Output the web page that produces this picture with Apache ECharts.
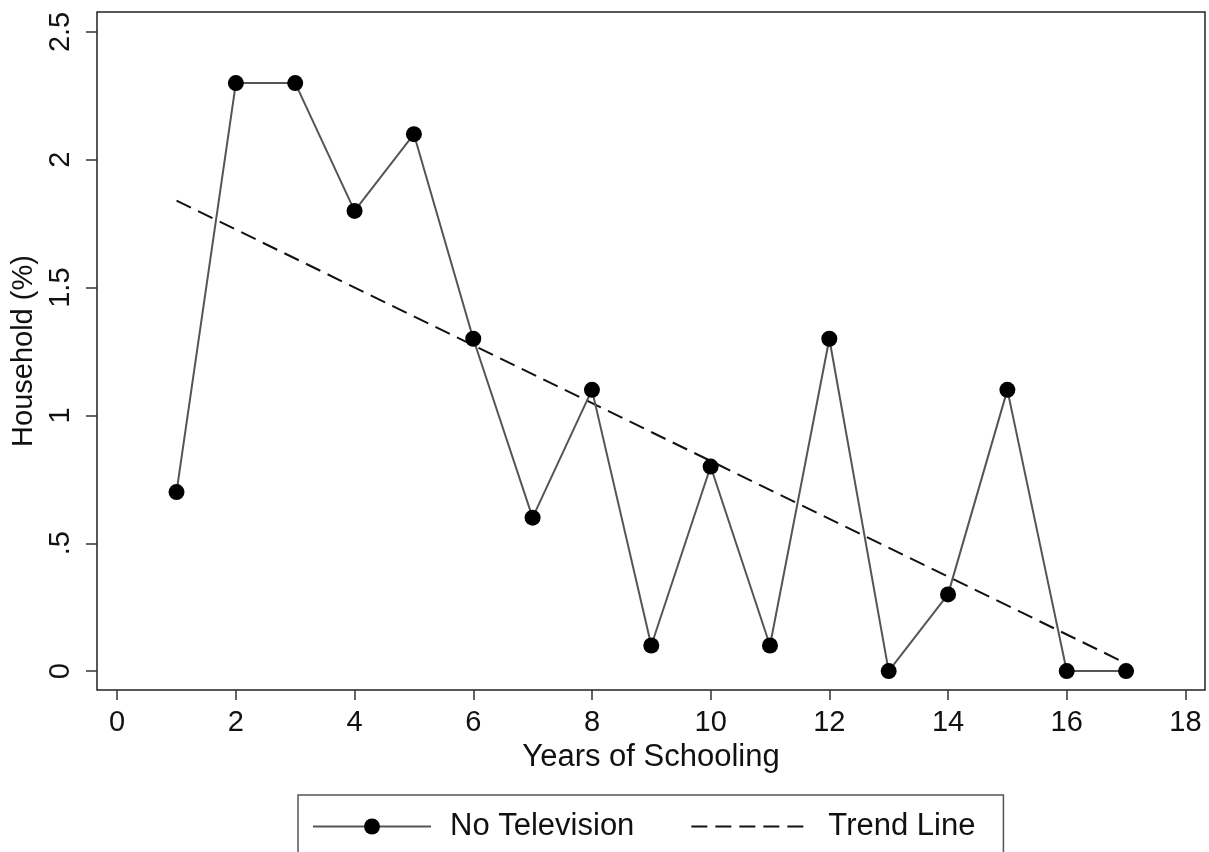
<!DOCTYPE html>
<html lang="en">
<head>
    <meta charset="UTF-8">
    <title>Household without television by years of schooling</title>
    <script src="https://cdn.jsdelivr.net/npm/echarts@6/dist/echarts.min.js"></script>
    <style>
        body { margin: 0; background: #fff; }
        #chart { width: 1209px; height: 852px; }
    </style>
</head>
<body>
<div id="chart"></div>
<script>
    // data
    var years = [1, 2, 3, 4, 5, 6, 7, 8, 9, 10, 11, 12, 13, 14, 15, 16, 17];
    var noTv = [0.7, 2.3, 2.3, 1.8, 2.1, 1.3, 0.6, 1.1, 0.1, 0.8, 0.1, 1.3, 0, 0.3, 1.1, 0, 0];
    var trendX = [1, 17];
    var trendY = [1.84, 0.03];
    var xTicks = [0, 2, 4, 6, 8, 10, 12, 14, 16, 18];
    var yTicks = [0, 0.5, 1, 1.5, 2, 2.5];
    var yTickLabels = ['0', '.5', '1', '1.5', '2', '2.5'];

    var font = 'Liberation Sans, Arial, Helvetica, sans-serif';

    var tvData = [];
    for (var i = 0; i < years.length; i++) {
        tvData.push([years[i], noTv[i]]);
    }
    var trendData = [];
    for (var j = 0; j < trendX.length; j++) {
        trendData.push([trendX[j], trendY[j]]);
    }

    var option = {
        animation: false,
        backgroundColor: '#fff',
        grid: {
            left: 97, right: 4, top: 12, bottom: 162,
            show: true, borderColor: '#222', borderWidth: 1.5
        },
        legend: {
            left: 298, top: 795,
            padding: [16, 28, 30, 14],
            borderColor: '#555', borderWidth: 1.5,
            itemWidth: 118, itemHeight: 20, itemGap: 56,
            textStyle: { fontFamily: font, fontSize: 31, color: '#111', padding: [0, 0, 0, 14] },
            data: [
                { name: 'No Television' },
                { name: 'Trend Line', itemStyle: { opacity: 0 } }
            ]
        },
        xAxis: {
            type: 'value',
            min: -0.34, max: 18.33,
            name: 'Years of Schooling',
            nameLocation: 'middle', nameGap: 50,
            nameTextStyle: { fontFamily: font, fontSize: 31, color: '#111' },
            axisLine: { show: false, onZero: false },
            splitLine: { show: false },
            axisTick: { show: true, length: 10, customValues: xTicks, lineStyle: { color: '#333', width: 1.5 } },
            axisLabel: { customValues: xTicks, margin: 18, fontFamily: font, fontSize: 29, color: '#111' }
        },
        yAxis: {
            type: 'value',
            min: -0.074, max: 2.578,
            name: 'Household (%)',
            nameLocation: 'middle', nameGap: 54,
            nameTextStyle: { fontFamily: font, fontSize: 29, color: '#111' },
            axisLine: { show: false, onZero: false },
            splitLine: { show: false },
            axisTick: { show: true, length: 11, customValues: yTicks, lineStyle: { color: '#333', width: 1.5 } },
            axisLabel: {
                customValues: yTicks, rotate: 90, margin: 22,
                fontFamily: font, fontSize: 29, color: '#111',
                formatter: function (v) {
                    var k = yTicks.indexOf(v);
                    return k >= 0 ? yTickLabels[k] : '';
                }
            }
        },
        series: [
            {
                name: 'No Television',
                type: 'line',
                data: tvData,
                symbol: 'circle', symbolSize: 16,
                itemStyle: { color: '#000' },
                lineStyle: { color: '#555', width: 2 },
                z: 3
            },
            {
                name: 'Trend Line',
                type: 'line',
                data: trendData,
                symbol: 'none',
                itemStyle: { color: '#111' },
                lineStyle: { color: '#111', width: 2, type: [16, 8] },
                z: 2
            }
        ]
    };

    var chart = echarts.init(document.getElementById('chart'));
    chart.setOption(option);
</script>
</body>
</html>
